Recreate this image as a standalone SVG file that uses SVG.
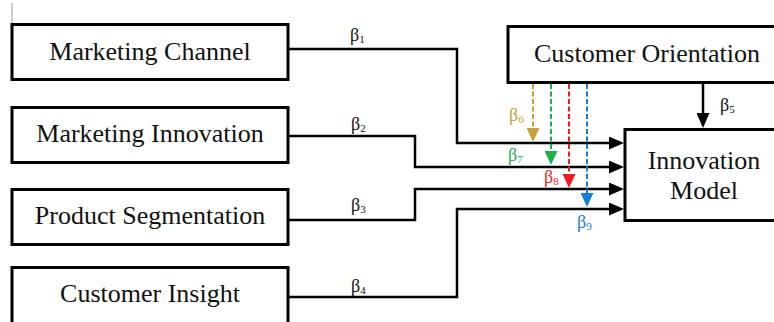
<svg xmlns="http://www.w3.org/2000/svg" width="774" height="322" viewBox="0 0 774 322">
  <style>
    .box { fill: #ffffff; stroke: #000000; stroke-width: 3; }
    .lbl { font-family: 'Liberation Serif', 'Times New Roman', serif; font-size: 26px; fill: #111111; text-anchor: middle; }
    .beta { font-family: 'Liberation Serif', 'Times New Roman', serif; font-size: 18px; fill: #111111; }
    .sub { font-size: 11px; }
    .wire { fill: none; stroke: #000000; stroke-width: 2.5; }
    .dash { fill: none; stroke-width: 2; stroke-dasharray: 5 2.5; }
  </style>
  <defs>
    <marker id="ah" markerUnits="userSpaceOnUse" viewBox="0 0 15 13" refX="8" refY="6.5" markerWidth="15" markerHeight="13" orient="auto">
      <path d="M0,0 L15,6.5 L0,13 Z" fill="#000000"/>
    </marker>
    <marker id="ah-gold" markerUnits="userSpaceOnUse" viewBox="0 0 14 13" refX="7" refY="6.5" markerWidth="14" markerHeight="13" orient="auto">
      <path d="M0,0 L14,6.5 L0,13 Z" fill="#C9A03A"/>
    </marker>
    <marker id="ah-green" markerUnits="userSpaceOnUse" viewBox="0 0 14 13" refX="7" refY="6.5" markerWidth="14" markerHeight="13" orient="auto">
      <path d="M0,0 L14,6.5 L0,13 Z" fill="#1FAF50"/>
    </marker>
    <marker id="ah-red" markerUnits="userSpaceOnUse" viewBox="0 0 14 13" refX="7" refY="6.5" markerWidth="14" markerHeight="13" orient="auto">
      <path d="M0,0 L14,6.5 L0,13 Z" fill="#EE1C24"/>
    </marker>
    <marker id="ah-blue" markerUnits="userSpaceOnUse" viewBox="0 0 14 13" refX="7" refY="6.5" markerWidth="14" markerHeight="13" orient="auto">
      <path d="M0,0 L14,6.5 L0,13 Z" fill="#1C7CD0"/>
    </marker>
  </defs>

  <rect width="774" height="322" fill="#ffffff"/>
  <line x1="12" y1="3" x2="12" y2="24" stroke="#9a9a9a" stroke-width="1"/>

  <g id="marketing-channel">
    <rect class="box" x="12" y="24.5" width="276" height="55"/>
    <text class="lbl" x="150" y="60" font-family="Liberation Serif, serif">Marketing Channel</text>
  </g>
  <g id="marketing-innovation">
    <rect class="box" x="12" y="107.5" width="276" height="55"/>
    <text class="lbl" x="150" y="142" font-family="Liberation Serif, serif">Marketing Innovation</text>
  </g>
  <g id="product-segmentation">
    <rect class="box" x="12" y="189.5" width="276" height="55"/>
    <text class="lbl" x="150" y="224" font-family="Liberation Serif, serif">Product Segmentation</text>
  </g>
  <g id="customer-insight">
    <rect class="box" x="12" y="267.5" width="276" height="70"/>
    <text class="lbl" x="150" y="302" font-family="Liberation Serif, serif">Customer Insight</text>
  </g>
  <g id="customer-orientation">
    <rect class="box" x="508" y="26.5" width="280" height="56"/>
    <text class="lbl" x="647" y="62" font-family="Liberation Serif, serif">Customer Orientation</text>
  </g>
  <g id="innovation-model">
    <rect class="box" x="625" y="129.5" width="160" height="91"/>
    <text class="lbl" x="704" y="169" font-family="Liberation Serif, serif">Innovation</text>
    <text class="lbl" x="704" y="199" font-family="Liberation Serif, serif">Model</text>
  </g>

  <g id="connectors">
    <path class="wire" d="M288,49 H457 V143 H617" marker-end="url(#ah)"/>
    <path class="wire" d="M288,136 H415 V167 H617" marker-end="url(#ah)"/>
    <path class="wire" d="M288,220 H415 V189 H617" marker-end="url(#ah)"/>
    <path class="wire" d="M288,297 H457 V209 H617" marker-end="url(#ah)"/>
    <path class="wire" d="M703,83 V121" marker-end="url(#ah)"/>

    <path class="dash" stroke="#C9A03A" d="M533,84 V135" marker-end="url(#ah-gold)"/>
    <path class="dash" stroke="#1FAF50" d="M551,84 V158" marker-end="url(#ah-green)"/>
    <path class="dash" stroke="#EE1C24" d="M569,84 V181" marker-end="url(#ah-red)"/>
    <path class="dash" stroke="#1C7CD0" d="M587,84 V200" marker-end="url(#ah-blue)"/>

    <text class="beta" x="350" y="41">β<tspan class="sub" dy="2">1</tspan></text>
    <text class="beta" x="351" y="130">β<tspan class="sub" dy="2">2</tspan></text>
    <text class="beta" x="351" y="211">β<tspan class="sub" dy="2">3</tspan></text>
    <text class="beta" x="351" y="292">β<tspan class="sub" dy="2">4</tspan></text>
    <text class="beta" x="720" y="111">β<tspan class="sub" dy="2">5</tspan></text>
    <text class="beta" x="509" y="121" style="fill:#C9A03A">β<tspan class="sub" dy="2">6</tspan></text>
    <text class="beta" x="508" y="161" style="fill:#1FAF50">β<tspan class="sub" dy="2">7</tspan></text>
    <text class="beta" x="544" y="183" style="fill:#EE1C24">β<tspan class="sub" dy="2">8</tspan></text>
    <text class="beta" x="577" y="228" style="fill:#1C7CD0">β<tspan class="sub" dy="2">9</tspan></text>
  </g>
</svg>
